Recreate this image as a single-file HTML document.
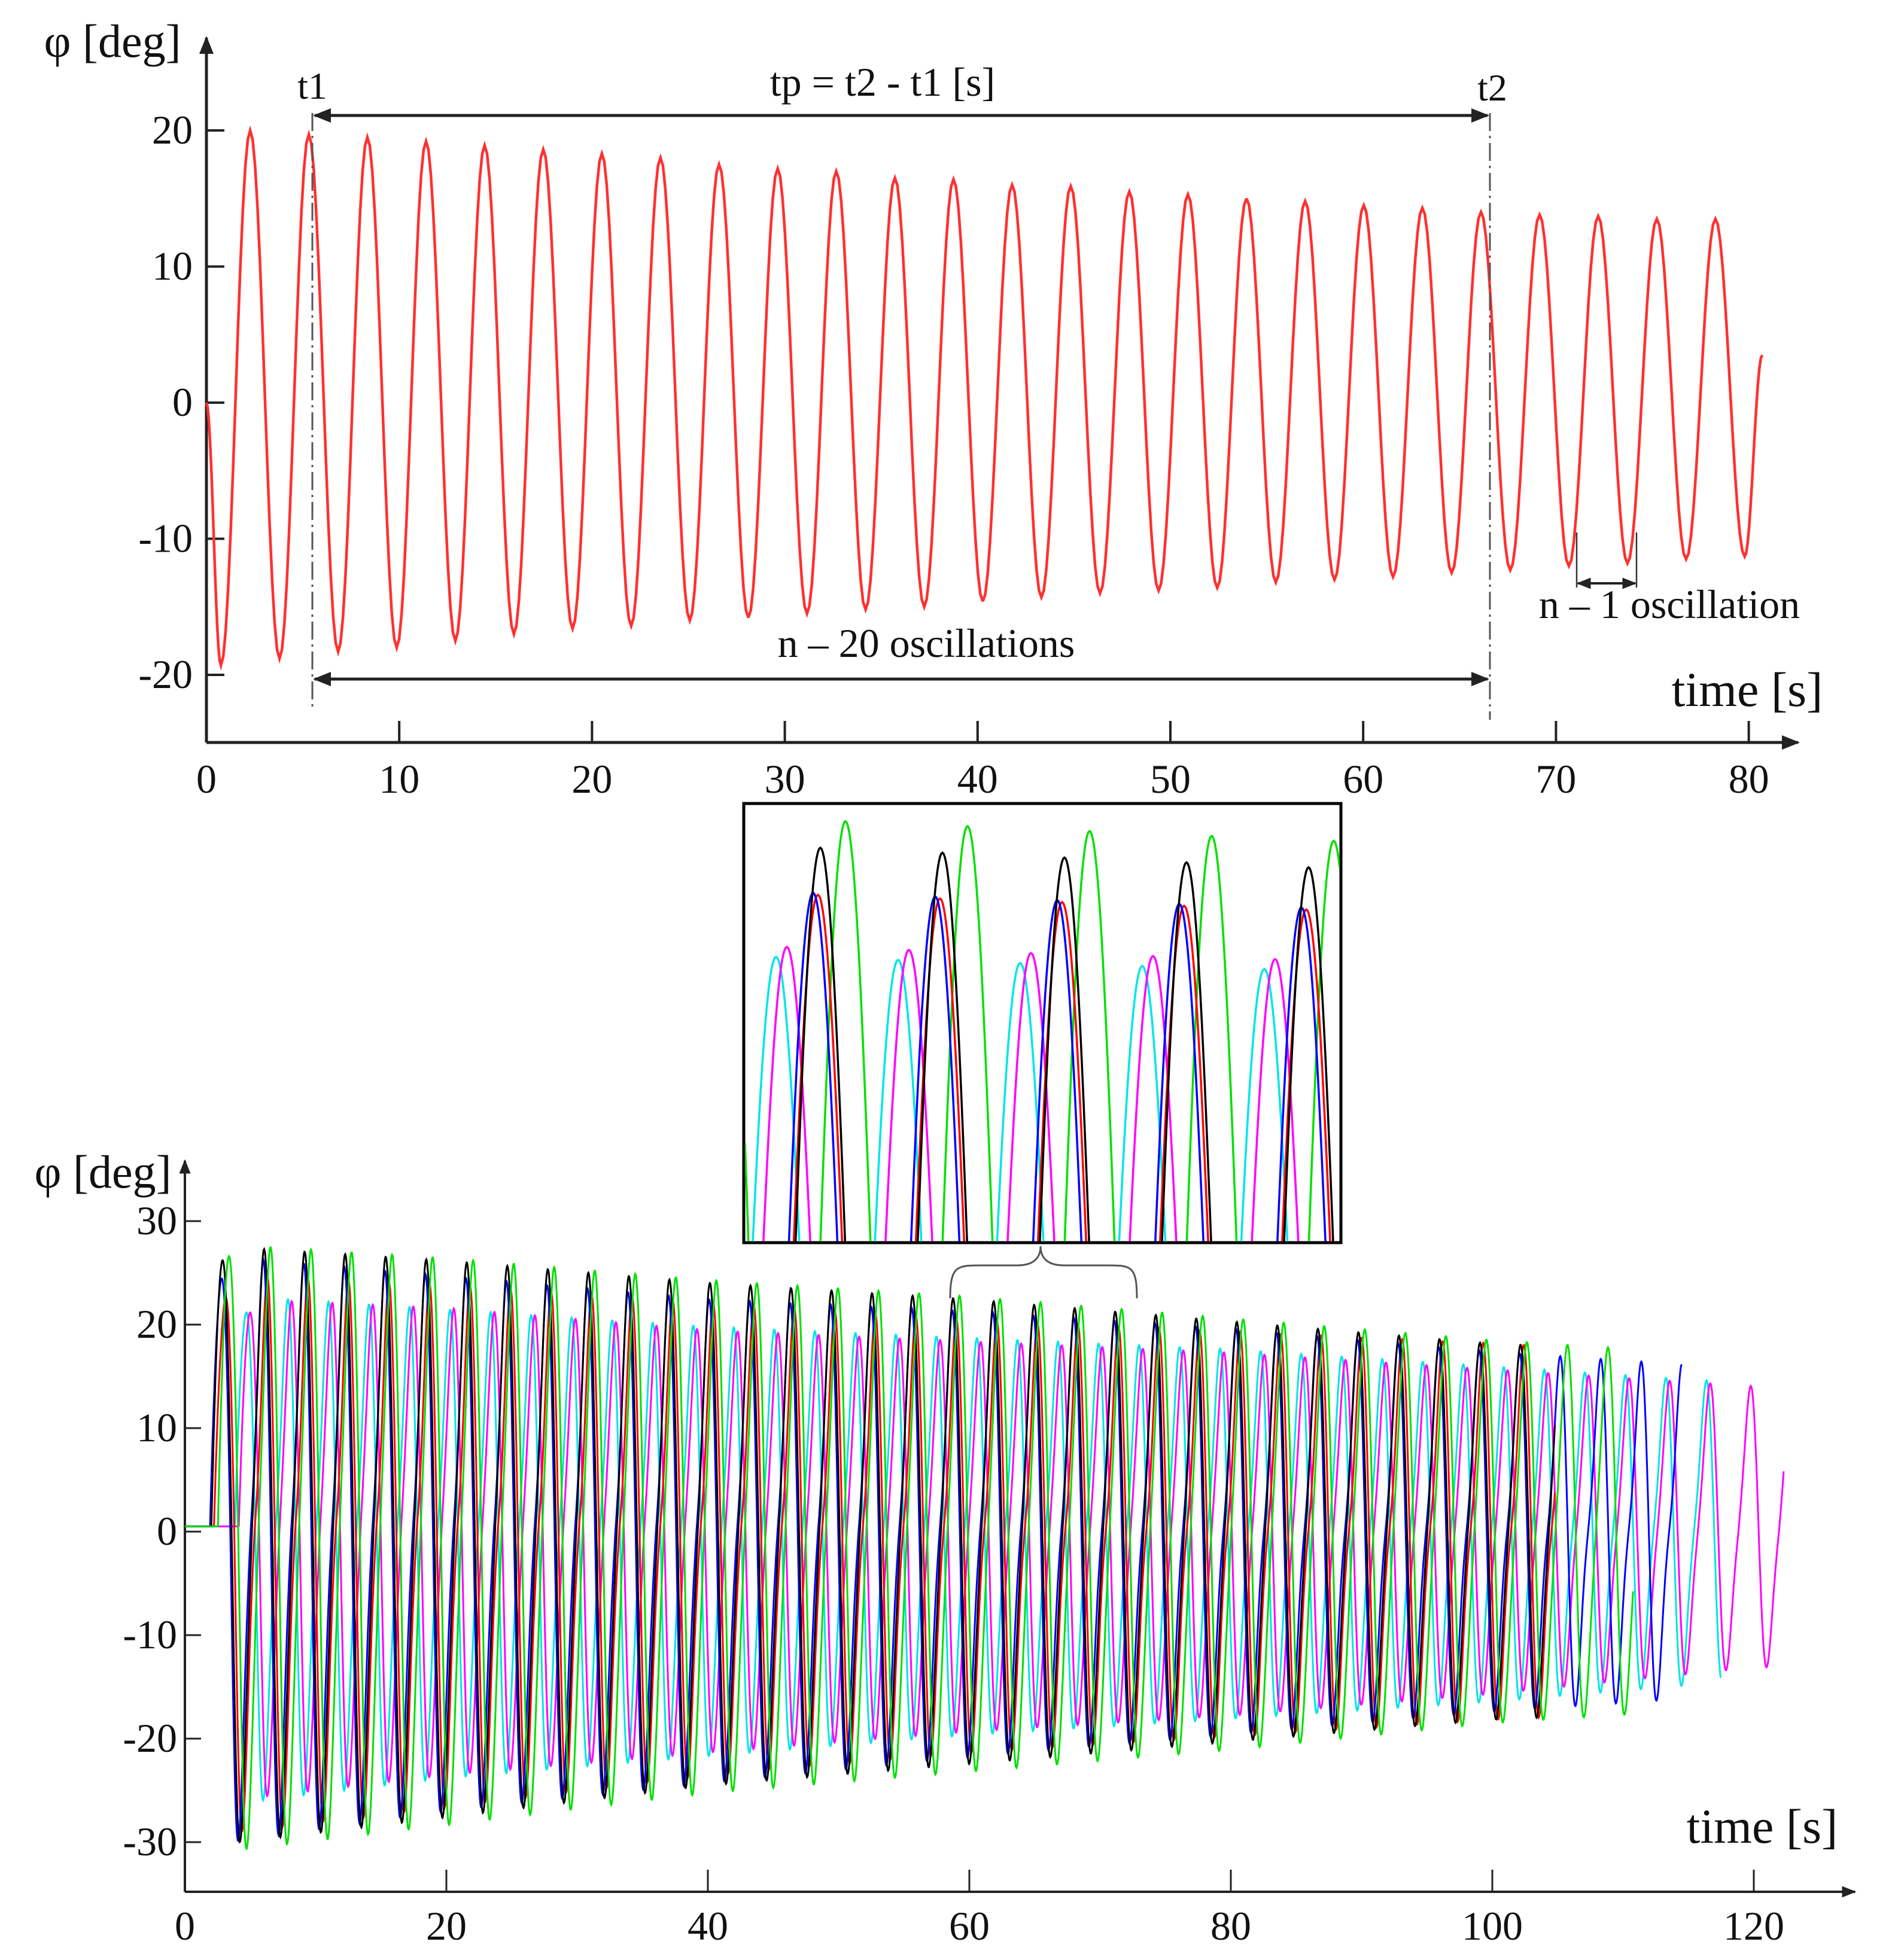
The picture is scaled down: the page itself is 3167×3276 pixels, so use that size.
<!DOCTYPE html>
<html><head><meta charset="utf-8"><style>
html,body{margin:0;padding:0;background:#fff;}
svg{display:block;}
text{font-family:"Liberation Serif",serif;fill:#111;}
</style></head><body>
<svg id="fig" width="3167" height="3276" viewBox="0 0 3167 3276" xmlns="http://www.w3.org/2000/svg">
<defs>
<marker id="ah" viewBox="0 0 10 10" refX="9" refY="5" markerWidth="6" markerHeight="6" orient="auto-start-reverse"><path d="M0,1 L10,5 L0,9 z" fill="#222"/></marker>
<clipPath id="insetClip"><rect x="1245" y="1345" width="994" height="730"/></clipPath>
</defs>
<g id="topchart"></g>
<g id="bottom"></g>
<g id="inset"></g>
</svg>
<script>
// ---------- TOP CHART DATA ----------
const topXTicks = [0,10,20,30,40,50,60,70,80];
const topYTicks = [20,10,0,-10,-20];
const topPeriod = 3.04;
const topFirstTrough = 0.75;
const topEnd = 80.7;
const topEndValue = 3.5;
const topPeaks = [20,19.7,19.5,19.2,18.9,18.6,18.3,18,17.5,17.2,17,16.5,16.4,16,15.9,15.5,15.3,15,14.8,14.5,14.3,14,13.8,13.7,13.5,13.5];
const topTroughs = [-19.3,-18.8,-18.3,-18,-17.5,-17,-16.6,-16.4,-16,-15.8,-15.5,-15.2,-15,-14.6,-14.3,-14,-13.8,-13.6,-13.2,-13,-12.8,-12.5,-12.3,-12,-11.8,-11.5,-11.3];

// ---------- BOTTOM CHART DATA ----------
const botXTicks = [0,20,40,60,80,100,120];
const botYTicks = [30,20,10,0,-10,-20,-30];
const botPeriod = 3.1;
const envKnots = [0,20,40,60,80,100,120];
const seriesNames = ['cyan','magenta','red','blue','black','green'];
const seriesColors = ['#00e5e5','#ff00ff','#ff0000','#0000ff','#000000','#00e000'];
const seriesFirstPeak = [4.6,4.9,3.0,2.7,2.8,3.3];
const seriesEnd = [117.5,122.3,104.8,114.5,104.8,110.8];
const seriesShoulder = [0.25,0.22,0.3,0.28,0.2,0.18];
const peaksCyan    = [21,19.5,18,17,16,14.5,13];
const peaksMagenta = [21,20,18,17,16,14.5,13];
const peaksRed     = [22,21,19.5,18,17,16,15];
const peaksBlue    = [24,22,20,19,17.5,15.5,14];
const peaksBlack   = [26,24.5,22.5,21,19,17,16];
const peaksGreen   = [26.5,25,23,21.5,19.5,17.5,16];
const troughsCyan    = [-25,-22,-20,-18,-16.5,-15,-13];
const troughsMagenta = [-25,-22,-20,-18,-16.5,-14.5,-12];
const troughsRed     = [-27,-24,-21,-19,-17.5,-16,-15];
const troughsBlue    = [-28,-24.5,-22,-19.5,-17.5,-15.5,-14];
const troughsBlack   = [-29,-26,-23,-21,-19,-17,-16];
const troughsGreen   = [-30,-27,-24,-22,-20,-17.5,-16];
const peakSets = [peaksCyan,peaksMagenta,peaksRed,peaksBlue,peaksBlack,peaksGreen];
const troughSets = [troughsCyan,troughsMagenta,troughsRed,troughsBlue,troughsBlack,troughsGreen];

// ---------- INSET DATA (magnified view) ----------
const insetNames = ['cyan','magenta','green','red','blue','black'];
const insetColors = ['#00e5e5','#ff00ff','#00e000','#ff0000','#0000ff','#000000'];
const insetPeakX = [1297,1315,1413,1367,1359,1371];
const insetPeakY = [1598,1581,1366,1492,1489,1412];
const insetPeakDrop = [25,25,40,30,30,40];

const NS='http://www.w3.org/2000/svg';
function mk(tag,attrs,parent){const e=document.createElementNS(NS,tag);for(const k in attrs)e.setAttribute(k,attrs[k]);parent.appendChild(e);return e;}
function txt(parent,x,y,s,size,anchor,name){const t=mk('text',{x:x,y:y,'font-size':size,'text-anchor':anchor||'middle'},parent);t.textContent=s;


return t;}

// ===== TOP CHART =====
const topG=document.getElementById('topchart');
const tx=v=>345+v*32.22, ty=v=>673-v*22.75;
let e;
e=mk('line',{x1:345,y1:1241,x2:3005,y2:1241,stroke:'#222','stroke-width':5,'marker-end':'url(#ah)'},topG);


e=mk('line',{x1:345,y1:1241,x2:345,y2:63,stroke:'#222','stroke-width':5,'marker-end':'url(#ah)'},topG);


topXTicks.forEach(v=>{
  e=mk('line',{x1:tx(v),y1:1241,x2:tx(v),y2:1205,stroke:'#222','stroke-width':4},topG);
  
  
  txt(topG,tx(v),1325,String(v),68,'middle','top-x-tick-label');
});
topYTicks.forEach(v=>{
  e=mk('line',{x1:345,y1:ty(v),x2:375,y2:ty(v),stroke:'#222','stroke-width':4},topG);
  
  
  txt(topG,322,ty(v)+22,String(v),68,'end','top-y-tick-label');
});
(function(){
  const ext=[[0,0]];
  let t=topFirstTrough, i=0;
  while(t<topEnd){
    const k=Math.floor(i/2);
    const arr=i%2===0?topTroughs:topPeaks;
    ext.push([t, arr[Math.min(k,arr.length-1)]]);
    t+=topPeriod/2; i++;
  }
  ext.push([topEnd,topEndValue]);
  let d='';
  for(let j=0;j<ext.length-1;j++){
    const [t0,v0]=ext[j],[t1,v1]=ext[j+1];
    for(let s=0;s<=12;s++){
      const f=s/12, w=(1-Math.cos(Math.PI*f))/2;
      const tt=t0+(t1-t0)*f, vv=v0+(v1-v0)*w;
      d+=(d?'L':'M')+tx(tt).toFixed(1)+','+ty(vv).toFixed(1);
    }
  }
  const p=mk('path',{d:d,fill:'none',stroke:'#ff3030','stroke-width':4.5},topG);
  
  
})();
[[522,189,1185],[2490,189,1203]].forEach(a=>{
  e=mk('line',{x1:a[0],y1:a[1],x2:a[0],y2:a[2],stroke:'#555','stroke-width':3,'stroke-dasharray':'30,8,4,8'},topG);
  
  
});
e=mk('line',{x1:526,y1:193,x2:2486,y2:193,stroke:'#222','stroke-width':5,'marker-start':'url(#ah)','marker-end':'url(#ah)'},topG);


e=mk('line',{x1:526,y1:1135,x2:2486,y2:1135,stroke:'#222','stroke-width':5,'marker-start':'url(#ah)','marker-end':'url(#ah)'},topG);


e=mk('line',{x1:2637,y1:975,x2:2733,y2:975,stroke:'#222','stroke-width':4,'marker-start':'url(#ah)','marker-end':'url(#ah)'},topG);


[2635,2735].forEach(x=>{e=mk('line',{x1:x,y1:890,x2:x,y2:982,stroke:'#333','stroke-width':2.5},topG);

});
txt(topG,522,165,'t1',64,'middle','t1-label');
txt(topG,1475,160,'tp = t2 - t1 [s]',68,'middle','tp-label');
txt(topG,2494,168,'t2',64,'middle','t2-label');
txt(topG,1548,1098,'n – 20 oscillations',68,'middle','n20-label');
txt(topG,2790,1033,'n – 1 oscillation',68,'middle','n1-label');
txt(topG,2920,1180,'time [s]',82,'middle','top-x-axis-title');
txt(topG,188,95,'φ [deg]',78,'middle','top-y-axis-title');

// ===== BOTTOM CHART =====
const bot=document.getElementById('bottom');
const bx=v=>309+v*21.85, by=v=>2560-v*17.3;
e=mk('line',{x1:309,y1:3162,x2:3100,y2:3162,stroke:'#222','stroke-width':4,'marker-end':'url(#ah)'},bot);


e=mk('line',{x1:309,y1:3162,x2:309,y2:1940,stroke:'#222','stroke-width':4,'marker-end':'url(#ah)'},bot);


botXTicks.forEach(v=>{
  e=mk('line',{x1:bx(v),y1:3162,x2:bx(v),y2:3125,stroke:'#222','stroke-width':3},bot);
  
  
  txt(bot,bx(v),3242,String(v),68,'middle','bottom-x-tick-label');
});
botYTicks.forEach(v=>{
  e=mk('line',{x1:309,y1:by(v),x2:336,y2:by(v),stroke:'#222','stroke-width':3},bot);
  
  
  txt(bot,296,by(v)+22,String(v),68,'end','bottom-y-tick-label');
});
function envAt(arr,t){
  if(t<=envKnots[0])return arr[0];
  for(let i=0;i<envKnots.length-1;i++){if(t<=envKnots[i+1]){const f=(t-envKnots[i])/(envKnots[i+1]-envKnots[i]);return arr[i]+(arr[i+1]-arr[i])*f;}}
  return arr[arr.length-1];
}
seriesNames.forEach((nm,si)=>{
  const fp=seriesFirstPeak[si], start=fp-botPeriod/4, end=seriesEnd[si];
  let d='M'+bx(0).toFixed(1)+','+by(0.5).toFixed(1)+'L'+bx(start).toFixed(1)+','+by(0.5).toFixed(1);
  for(let t=start;t<=end;t+=0.04){
    const ph=2*Math.PI*(t-fp)/botPeriod;
    const c=Math.cos(ph);
    const pk=envAt(peakSets[si],t), tr=envAt(troughSets[si],t);
    let v=c>=0?c*pk:-c*tr;
    v+=seriesShoulder[si]*pk*Math.sin(2*ph)*Math.min(1,(t-start)/2);
    d+='L'+bx(t).toFixed(1)+','+by(v+0.5*Math.max(0,1-(t-start))).toFixed(1);
  }
  const p=mk('path',{d:d,fill:'none',stroke:seriesColors[si],'stroke-width':3},bot);
  
  
});
txt(bot,2945,3080,'time [s]',82,'middle','bottom-x-axis-title');
txt(bot,172,1985,'φ [deg]',78,'middle','bottom-y-axis-title');

// ===== INSET =====
const ins=document.getElementById('inset');
e=mk('rect',{x:1243,y:1343,width:998,height:734,fill:'#fff',stroke:'#000','stroke-width':5},ins);


const clipG=mk('g',{'clip-path':'url(#insetClip)'},ins);
const P=204;
insetNames.forEach((nm,i)=>{
  let d='';
  for(let x=1245;x<=2240;x+=2){
    const k=(x-insetPeakX[i])/P;
    const peak=insetPeakY[i]+insetPeakDrop[i]*((x-1245)/1000);
    const y=2349-(2349-peak)*Math.cos(2*Math.PI*k);
    d+=(d?'L':'M')+x+','+y.toFixed(1);
  }
  const p=mk('path',{d:d,fill:'none',stroke:insetColors[i],'stroke-width':3.5},clipG);
  
  
});
e=mk('path',{d:'M1588,2170 C1588,2115 1600,2115 1640,2115 L1700,2115 C1730,2115 1739,2100 1739,2083 C1739,2100 1748,2115 1778,2115 L1850,2115 C1890,2115 1900,2115 1900,2170',fill:'none',stroke:'#555','stroke-width':3},ins);


</script>
</body></html>
